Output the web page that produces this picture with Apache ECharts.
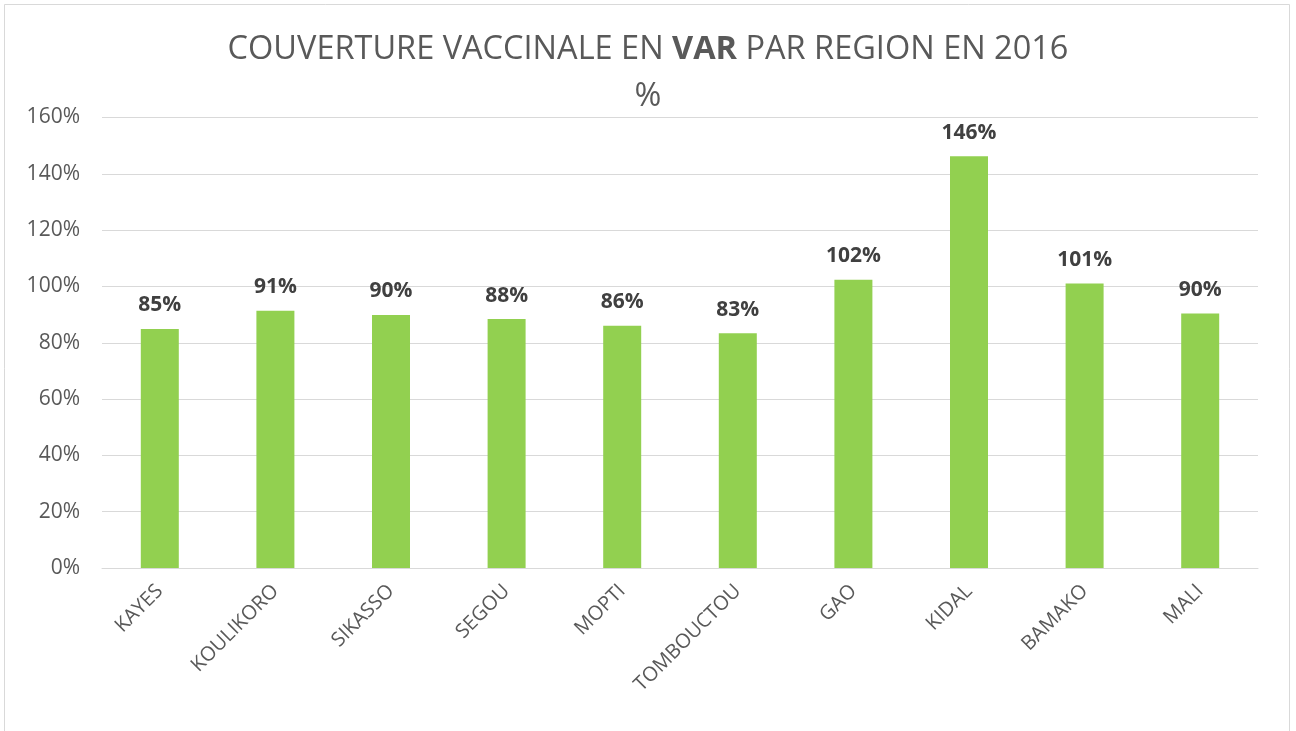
<!DOCTYPE html>
<html><head><meta charset="utf-8">
<script src="https://cdn.jsdelivr.net/npm/echarts@6/dist/echarts.min.js"></script>
<style>html,body{margin:0;padding:0;background:#fff}#c{width:1296px;height:731px}</style>
</head><body><div id="c"></div>
<script>
const categories = ['KAYES','KOULIKORO','SIKASSO','SEGOU','MOPTI','TOMBOUCTOU','GAO','KIDAL','BAMAKO','MALI'];
const coverage = [84.9, 91.4, 89.9, 88.4, 86.0, 83.4, 102.4, 146.2, 101.0, 90.4];
const yTicks = [0, 20, 40, 60, 80, 100, 120, 140, 160];
const FONT = '"Open Sans", sans-serif';
const chart = echarts.init(document.getElementById('c'));
chart.setOption({
  animation: false,
  backgroundColor: '#fff',
  graphic: [{type:'rect', shape:{x:4.5,y:4.5,width:1285,height:740}, style:{fill:'none', stroke:'#d9d9d9', lineWidth:1}, silent:true}],
  title: {
    left: 'center', top: 21,
    text: '{n|COUVERTURE VACCINALE EN }{b|VAR}{n| PAR REGION EN 2016}\n{n|%}',
    textStyle: {
      fontWeight: 'normal',
      rich: {
        n: {fontFamily: FONT, fontSize: 32.5, color: '#595959', fontWeight: 'normal', lineHeight: 47},
        b: {fontFamily: FONT, fontSize: 32.5, color: '#595959', fontWeight: 'bold', lineHeight: 47}
      }
    }
  },
  grid: {left: 102, right: 38, top: 117.5, bottom: 163},
  xAxis: {
    type: 'category', data: categories,
    axisLine: {lineStyle: {color: '#d9d9d9', width: 1}},
    axisTick: {show: false},
    axisLabel: {rotate: 45, color: '#595959', fontFamily: FONT, fontSize: 20, margin: 20, interval: 0}
  },
  yAxis: {
    type: 'value', min: yTicks[0], max: yTicks[yTicks.length-1], interval: 20,
    axisLine: {show: false}, axisTick: {show: false},
    splitLine: {lineStyle: {color: '#d9d9d9', width: 1}},
    axisLabel: {formatter: v => v + '%', color: '#595959', fontFamily: FONT, fontSize: 21, margin: 22}
  },
  series: [{
    type: 'bar', data: coverage, barWidth: 38,
    itemStyle: {color: '#92D050'},
    label: {show: true, position: 'top', distance: 13, formatter: p => Math.round(p.value) + '%',
      color: '#404040', fontFamily: FONT, fontSize: 21, fontWeight: 'bold'}
  }]
});
</script></body></html>
